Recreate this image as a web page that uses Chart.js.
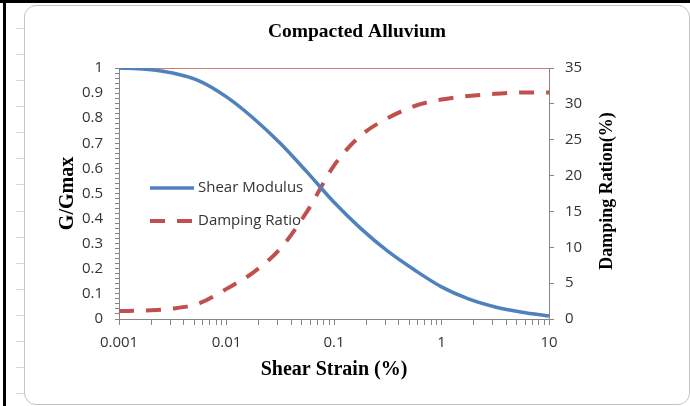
<!DOCTYPE html>
<html>
<head>
<meta charset="utf-8">
<script src="https://cdn.jsdelivr.net/npm/chart.js@4.4.1/dist/chart.umd.min.js"></script>
<style>
  html, body { margin: 0; padding: 0; background: #fff; }
  #page { position: relative; width: 690px; height: 406px; overflow: hidden; }
  .frameTop { position: absolute; left: 0; top: 0; width: 690px; height: 3px; background: #000; }
  .frameLeft { position: absolute; left: 3px; top: 0; width: 3px; height: 406px; background: #000; }
  .cells { position: absolute; left: 16px; top: 28px; width: 8px; height: 378px;
           background: repeating-linear-gradient(to bottom, #d6d6d6 0, #d6d6d6 1px, transparent 1px, transparent 26.08px); }
  .box { position: absolute; left: 24px; top: 5px; width: 666px; height: 400px; box-sizing: border-box;
         border: 1.5px solid #c4c4c4; border-radius: 12px; background: #fff; }
  #wrap { position: absolute; left: 0; top: 0; width: 690px; height: 406px; }
</style>
</head>
<body>
<div id="page">
  <div class="frameTop"></div>
  <div class="frameLeft"></div>
  <div class="cells"></div>
  <div class="box"></div>
  <div id="wrap"><canvas id="myChart"></canvas></div>
</div>
<script>
// datos (cuartos de decada)
const strain = [0.001, 0.00178, 0.00316, 0.00562, 0.01, 0.0178, 0.0316, 0.0562, 0.1, 0.178, 0.316, 0.562, 1, 1.78, 3.16, 5.62, 10];
const shearModulus = [1.0, 0.995, 0.98, 0.948, 0.885, 0.80, 0.70, 0.585, 0.465, 0.36, 0.27, 0.195, 0.128, 0.08, 0.048, 0.027, 0.012];
const dampingRatio = [1.1, 1.2, 1.45, 2.2, 4.2, 6.5, 9.8, 15.0, 21.4, 25.6, 28.0, 29.7, 30.6, 31.1, 31.4, 31.6, 31.6];

// linea roja superior (G/Gmax = 1)
const topLineStrain = [0.001, 10];
const topLineValue = [1, 1];

// etiquetas de los ejes
const xMajorTicks = [0.001, 0.01, 0.1, 1, 10];
const title = 'Compacted Alluvium';
const xTitle = 'Shear Strain (%)';
const yTitle = 'G/Gmax';
const y1Title = 'Damping Ration(%)';

// ticks menores del eje log (1..9 por decada)
const xTickValues = [];
xMajorTicks.forEach((d, i) => {
    if (i === xMajorTicks.length - 1) { xTickValues.push(d); return; }
    for (let k = 1; k <= 9; k++) xTickValues.push(+(k * d).toPrecision(3));
});

const tickFont = { family: 'Open Sans', size: 15 };
const titleFont = { family: 'Liberation Serif', size: 20, weight: 'bold' };
const axisGray = '#868686';
const textColor = '#333';

const toPoints = (xs, ys) => xs.map((x, i) => ({ x: x, y: ys[i] }));

// leyenda y titulo derecho dibujados a mano
const extras = {
    id: 'extras',
    afterDraw(chart) {
        const ctx = chart.ctx;
        const area = chart.chartArea;
        ctx.save();
        [0, 1].forEach(i => {
            const d = chart.data.datasets[i];
            const y = area.top + 120 + i * 33;
            const x0 = area.left + 31;
            ctx.beginPath();
            ctx.setLineDash(d.borderDash || []);
            ctx.lineWidth = d.borderWidth;
            ctx.strokeStyle = d.borderColor;
            ctx.moveTo(x0, y);
            ctx.lineTo(x0 + 44, y);
            ctx.stroke();
            ctx.setLineDash([]);
            ctx.fillStyle = textColor;
            ctx.font = '15px "Open Sans"';
            ctx.textBaseline = 'middle';
            ctx.textAlign = 'left';
            ctx.fillText(d.label, x0 + 48, y);
        });
        // titulo eje derecho, leido de abajo hacia arriba
        ctx.translate(607, 191);
        ctx.rotate(-Math.PI / 2);
        ctx.font = 'bold 18px "Liberation Serif"';
        ctx.fillStyle = '#000';
        ctx.textAlign = 'center';
        ctx.textBaseline = 'middle';
        ctx.fillText(y1Title, 0, 0);
        ctx.restore();
    }
};

new Chart(document.getElementById('myChart'), {
    type: 'scatter',
    data: {
        datasets: [{
            label: 'Shear Modulus',
            data: toPoints(strain, shearModulus),
            yAxisID: 'y',
            showLine: true,
            borderColor: '#4f81bd',
            borderWidth: 3.5,
            pointRadius: 0,
            cubicInterpolationMode: 'monotone'
        }, {
            label: 'Damping Ratio',
            data: toPoints(strain, dampingRatio),
            yAxisID: 'y1',
            showLine: true,
            borderColor: '#c0504d',
            borderWidth: 4,
            borderDash: [15, 12],
            pointRadius: 0,
            cubicInterpolationMode: 'monotone'
        }, {
            label: 'top',
            data: toPoints(topLineStrain, topLineValue),
            yAxisID: 'y',
            showLine: true,
            borderColor: '#c0504d',
            borderWidth: 1.5,
            pointRadius: 0
        }]
    },
    options: {
        responsive: true,
        maintainAspectRatio: false,
        animation: false,
        layout: { padding: { left: 40, right: 16, top: 0, bottom: 0 } },
        plugins: {
            legend: { display: false },
            tooltip: { enabled: false },
            title: {
                display: true,
                text: title,
                color: '#000',
                font: { family: 'Liberation Serif', size: 19.5, weight: 'bold' },
                padding: { top: 20.3, bottom: 24.3 }
            }
        },
        scales: {
            x: {
                type: 'logarithmic',
                min: 0.001,
                max: 10,
                afterBuildTicks: (scale) => { scale.ticks = xTickValues.map(v => ({ value: v })); },
                afterFit: (scale) => { scale.height = 87; },
                ticks: {
                    autoSkip: false,
                    maxRotation: 0,
                    padding: 9,
                    color: textColor,
                    font: tickFont,
                    callback: (v) => xMajorTicks.includes(v) ? String(v) : ''
                },
                grid: { drawOnChartArea: false, drawTicks: true, tickLength: 6, color: axisGray },
                border: { color: axisGray },
                title: { display: true, text: xTitle, color: '#000', font: titleFont, padding: { top: 0, bottom: 24 } }
            },
            y: {
                position: 'left',
                min: 0,
                max: 1,
                afterFit: (scale) => { scale.width = 79; },
                ticks: {
                    stepSize: 0.02,
                    autoSkip: false,
                    padding: 12,
                    color: textColor,
                    font: tickFont,
                    callback: (v) => Math.round(v * 100) % 10 === 0 ? String(Math.round(v * 10) / 10) : ''
                },
                grid: { drawOnChartArea: false, drawTicks: true, tickLength: 4, color: axisGray },
                border: { color: axisGray },
                title: { display: true, text: yTitle, color: '#000', font: titleFont, padding: { top: 16, bottom: 0 } }
            },
            y1: {
                position: 'right',
                min: 0,
                max: 35,
                afterFit: (scale) => { scale.width = 125; },
                ticks: { stepSize: 5, padding: 11, color: textColor, font: tickFont },
                grid: { drawOnChartArea: false, drawTicks: true, tickLength: 5, color: axisGray },
                border: { color: axisGray }
            }
        }
    },
    plugins: [extras]
});
</script>
</body>
</html>
